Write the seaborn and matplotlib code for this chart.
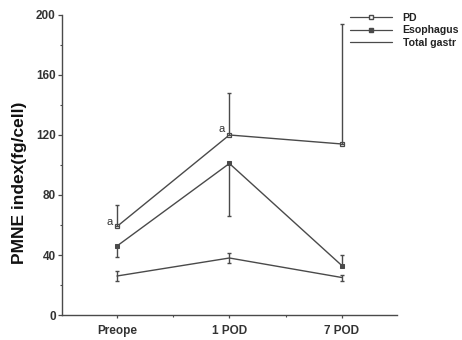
import matplotlib
matplotlib.use("Agg")
import matplotlib.pyplot as plt
import seaborn as sns
import pandas as pd
import numpy as np
from matplotlib.lines import Line2D

categories = ["Preope", "1 POD", "7 POD"]
series_names = ["PD", "Esophagus", "Total gastr"]
pd_vals = [59, 120, 114]
pd_err_upper = [14, 28, 80]
eso_vals = [46, 101, 33]
eso_err_lower = [7, 35, 0]
eso_err_upper = [0, 0, 7]
tot_vals = [26, 38, 25]
tot_err = [3.5, 3.5, 2]
y_ticks = [0, 40, 80, 120, 160, 200]

sns.set_style("white")
plt.rcParams['font.family'] = ['Liberation Sans', 'DejaVu Sans']

pos = list(range(len(categories)))
col = "#4a4a4a"

fig = plt.figure(figsize=(4.62, 3.40), dpi=100)
ax = fig.add_axes([0.134, 0.0735, 0.725, 0.8825])

sns.lineplot(x=pos, y=pd_vals, color=col, linewidth=1.0, marker="s",
             markersize=3.3, markerfacecolor="white", markeredgecolor=col,
             markeredgewidth=0.9, ax=ax)
sns.lineplot(x=pos, y=eso_vals, color=col, linewidth=1.0, marker="s",
             markersize=2.6, markerfacecolor=col, markeredgecolor=col, ax=ax)
sns.lineplot(x=pos, y=tot_vals, color=col, linewidth=1.0, ax=ax)

ax.errorbar(pos, pd_vals, yerr=[np.zeros(3), pd_err_upper], fmt="none",
            ecolor=col, elinewidth=1.0, capsize=1.5, capthick=1.0)
ax.errorbar(pos, eso_vals, yerr=[eso_err_lower, eso_err_upper], fmt="none",
            ecolor=col, elinewidth=1.0, capsize=1.5, capthick=1.0)
ax.errorbar(pos, tot_vals, yerr=tot_err, fmt="none",
            ecolor=col, elinewidth=1.0, capsize=1.5, capthick=1.0)

ax.text(-0.04, 62, "a", ha="right", va="center", fontsize=8, color="#333")
ax.text(0.96, 124, "a", ha="right", va="center", fontsize=8, color="#333")

ax.set_xlim(-0.49, 2.49)
ax.set_ylim(0, 200)
ax.set_xticks(pos)
ax.set_xticklabels(categories, fontsize=8.5, fontweight="bold", color="#333")
ax.set_xticks([0.5, 1.5], minor=True)
ax.set_yticks(y_ticks)
ax.set_yticklabels([str(v) for v in y_ticks], fontsize=8.5, fontweight="bold", color="#333")
ax.set_yticks([20, 60, 100, 140, 180], minor=True)
ax.tick_params(axis="y", which="major", direction="out", length=3, width=0.9,
               color=col, pad=1.5, left=True)
ax.tick_params(axis="x", which="major", direction="out", length=2.5, width=0.9,
               color=col, pad=5, bottom=True)
ax.tick_params(axis="both", which="minor", direction="out", length=1.5, width=0.8,
               color=col, left=True, bottom=True)
ax.set_xlabel("")
ax.set_ylabel("PMNE index(fg/cell)", fontsize=12.5, fontweight="bold", color="#111")
ax.yaxis.set_label_coords(-0.105, 0.44)

for s in ["top", "right"]:
    ax.spines[s].set_visible(False)
for s in ["left", "bottom"]:
    ax.spines[s].set_color(col)
    ax.spines[s].set_linewidth(1.0)

handles = [
    Line2D([], [], color=col, lw=0.9, marker="s", markersize=3.3,
           markerfacecolor="white", markeredgecolor=col),
    Line2D([], [], color=col, lw=0.9, marker="s", markersize=2.6,
           markerfacecolor=col),
    Line2D([], [], color=col, lw=0.9),
]
leg = fig.legend(handles, series_names, loc="upper left",
                 bbox_to_anchor=(0.748, 0.975), frameon=False,
                 prop={"size": 7.6, "weight": "bold"}, handlelength=4.0,
                 handletextpad=1.0, labelspacing=0.25, borderaxespad=0)
for t in leg.get_texts():
    t.set_color("#222")

fig.savefig("out.png", dpi=100)
